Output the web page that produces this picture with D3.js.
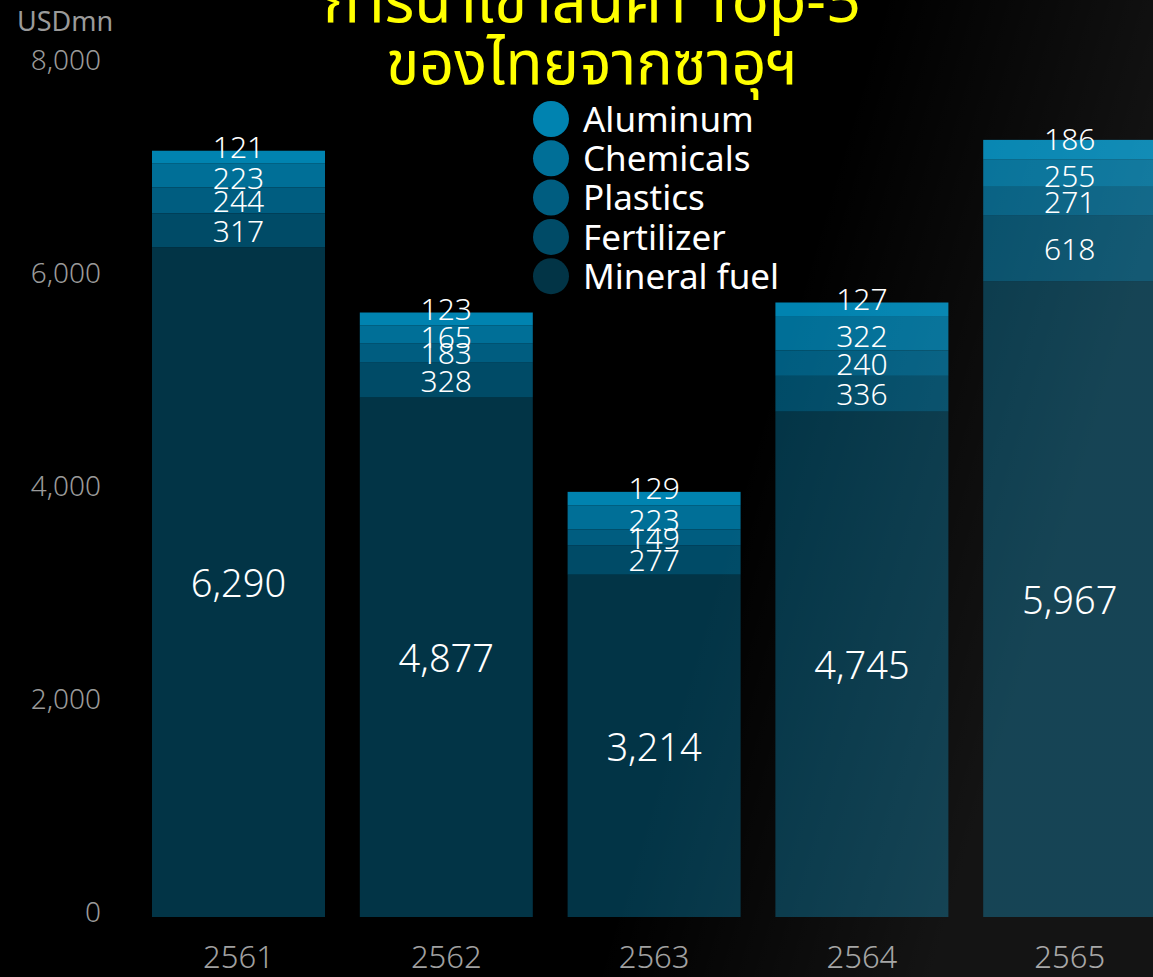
<!DOCTYPE html>
<html><head><meta charset="utf-8">
<script src="https://cdn.jsdelivr.net/npm/d3@7"></script>
<style>
html,body{margin:0;padding:0;background:#000;overflow:hidden;}
svg{display:block;}
text{font-family:"Noto Sans","Noto Sans Thai",sans-serif;}
</style></head>
<body>
<svg id="chart" width="1153" height="977"></svg>
<script>
const years = ["2561","2562","2563","2564","2565"];
const seriesNames = ["Mineral fuel","Fertilizer","Plastics","Chemicals","Aluminum"];
const mineralFuel = [6290,4877,3214,4745,5967];
const fertilizer  = [317,328,277,336,618];
const plastics    = [244,183,149,240,271];
const chemicals   = [223,165,223,322,255];
const aluminum    = [121,123,129,127,186];
const yTicks = [0,2000,4000,6000,8000];
const titleLines = ["การนำเข้าสินค้า Top-5","ของไทยจากซาอุฯ"];
const colors = ["#023446","#004b67","#005d80","#006f97","#0083b0"];
const legendOrder = ["Aluminum","Chemicals","Plastics","Fertilizer","Mineral fuel"];

const W=1153,H=977;
const svg=d3.select("#chart");
const defs=svg.append("defs");
const lg=defs.append("linearGradient").attr("id","sheen").attr("x1","0").attr("y1","0").attr("x2","1").attr("y2","0.25");
lg.append("stop").attr("offset","0").attr("stop-color","#fff").attr("stop-opacity",0);
lg.append("stop").attr("offset","0.72").attr("stop-color","#fff").attr("stop-opacity",0);
lg.append("stop").attr("offset","1").attr("stop-color","#fff").attr("stop-opacity",0.08);

svg.append("rect").attr("width",W).attr("height",H).attr("fill","#000");

const x=d3.scaleBand().domain(years).range([134.6,1173.6]).paddingInner(0.1675).paddingOuter(0.08375);
const y=d3.scaleLinear().domain([0,8000]).range([917,65]);

const rows=years.map((yr,i)=>({year:yr,"Mineral fuel":mineralFuel[i],"Fertilizer":fertilizer[i],"Plastics":plastics[i],"Chemicals":chemicals[i],"Aluminum":aluminum[i]}));
const stack=d3.stack().keys(seriesNames)(rows);
const color=d3.scaleOrdinal().domain(seriesNames).range(colors);

// y axis
const yAxis=svg.append("g").attr("transform","translate(101,-4)")
  .call(d3.axisLeft(y).tickValues(yTicks).tickFormat(d3.format(",")).tickSize(0).tickPadding(0));
yAxis.select(".domain").remove();
yAxis.selectAll("text").attr("fill","#9a9a9a").style("font-size","28px").style("font-weight","300").style("font-family","'Noto Sans',sans-serif");

svg.append("text").attr("x",17).attr("y",31).attr("fill","#9a9a9a").style("font-size","27px").text("USDmn");

// x axis
const xAxis=svg.append("g").attr("transform","translate(0,917)")
  .call(d3.axisBottom(x).tickSize(0).tickPadding(22));
xAxis.select(".domain").remove();
xAxis.selectAll("text").attr("fill","#a0a0a0").style("font-size","31px").style("font-weight","300").style("font-family","'Noto Sans',sans-serif").attr("dy","0.95em");

// bars
const layers=svg.append("g").selectAll("g").data(stack).join("g").attr("fill",d=>color(d.key));
layers.selectAll("rect").data(d=>d).join("rect")
  .attr("x",d=>x(d.data.year)).attr("width",x.bandwidth())
  .attr("y",d=>y(d[1])).attr("height",d=>y(d[0])-y(d[1]));

// labels
const fmt=d3.format(",");
const lblOffset={"Mineral fuel":0,"Fertilizer":0,"Plastics":0,"Chemicals":2,"Aluminum":-11};
stack.forEach(layer=>{
  svg.append("g").selectAll("text").data(layer).join("text")
    .attr("x",d=>x(d.data.year)+x.bandwidth()/2)
    .attr("y",d=>(y(d[0])+y(d[1]))/2+lblOffset[layer.key])
    .attr("text-anchor","middle").attr("dominant-baseline","central")
    .attr("fill","#fff")
    .style("font-size",layer.key==="Mineral fuel"?"38px":"30px")
    .style("font-weight","300")
    .text(d=>fmt(d[1]-d[0]));
});

// title
const title=svg.append("text").attr("text-anchor","middle").attr("fill","#ffff00").style("font-size","61px");
titleLines.forEach((t,i)=>title.append("tspan").attr("x",592).attr("y",22+i*62).text(t));

// legend
const leg=svg.append("g").selectAll("g").data(legendOrder).join("g")
  .attr("transform",(d,i)=>`translate(551,${119+i*39.3})`);
leg.append("circle").attr("r",18).attr("fill",d=>color(d));
leg.append("text").attr("x",32).attr("dy","0.36em").attr("fill","#fff").style("font-size","35px").text(d=>d);

// sheen overlay
svg.append("rect").attr("width",W).attr("height",H).attr("fill","url(#sheen)").style("pointer-events","none");
</script>
</body></html>
